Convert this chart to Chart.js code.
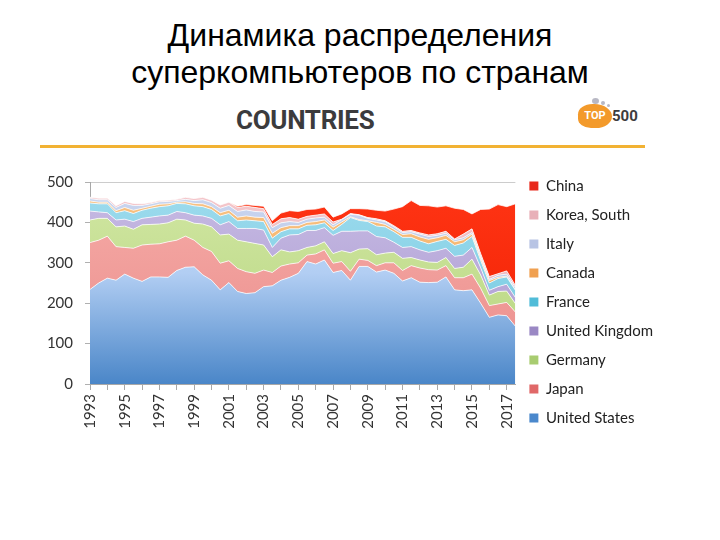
<!DOCTYPE html>
<html>
<head>
<meta charset="utf-8">
<script src="https://cdn.jsdelivr.net/npm/chart.js@4.4.1/dist/chart.umd.min.js"></script>
<style>
html, body { margin: 0; padding: 0; background: #fff; }
body { width: 720px; height: 540px; position: relative; overflow: hidden; font-family: "Liberation Sans", Arial, sans-serif; }
#title { position: absolute; left: 0; top: 17px; width: 720px; text-align: center; font-size: 32px; line-height: 37px; color: #000; }
#head { position: absolute; left: 236px; top: 105px; font-family: Roboto, sans-serif; font-weight: bold; font-size: 26px; color: #3b3b3d; letter-spacing: -0.3px; }
#rule { position: absolute; left: 40px; top: 145px; width: 605px; height: 3px; background: #f2b233; }
#logoBlob { position: absolute; left: 578px; top: 104px; width: 34px; height: 24px; background: #f39a2b; border-radius: 45% 55% 50% 40%; color: #fff; font: bold 11px Roboto, sans-serif; text-align: center; line-height: 24px; }
#logo500 { position: absolute; left: 612px; top: 104px; font: bold 15px Roboto, sans-serif; color: #3d3d3d; line-height: 24px; }
.dot { position: absolute; border-radius: 50%; background: #b8b8c4; }
#wrap { position: absolute; left: 0; top: 158px; width: 720px; height: 288px; }
</style>
</head>
<body>
<div id="title">Динамика распределения<br>суперкомпьютеров по странам</div>
<div id="head">COUNTRIES</div>
<div id="logoBlob">TOP</div>
<div id="logo500">500</div>
<div class="dot" style="left:592px;top:98px;width:7px;height:6px;"></div>
<div class="dot" style="left:601px;top:101px;width:4px;height:4px;"></div>
<div class="dot" style="left:607px;top:104px;width:3px;height:3px;"></div>
<div id="rule"></div>
<div id="wrap"><canvas id="chart"></canvas></div>
<script>
// TOP500 lists, June (.0) and November (.5)
const periods = [1993, 1993.5, 1994, 1994.5, 1995, 1995.5, 1996, 1996.5, 1997, 1997.5,
    1998, 1998.5, 1999, 1999.5, 2000, 2000.5, 2001, 2001.5, 2002, 2002.5,
    2003, 2003.5, 2004, 2004.5, 2005, 2005.5, 2006, 2006.5, 2007, 2007.5,
    2008, 2008.5, 2009, 2009.5, 2010, 2010.5, 2011, 2011.5, 2012, 2012.5,
    2013, 2013.5, 2014, 2014.5, 2015, 2015.5, 2016, 2016.5, 2017, 2017.5];
const xLabels = [1993, 1995, 1997, 1999, 2001, 2003, 2005, 2007, 2009, 2011, 2013, 2015, 2017];

const unitedStates = [234, 250, 262, 257, 272, 262, 254, 265, 265, 264,
    281, 289, 290, 270, 257, 233, 251, 229, 224, 226,
    241, 243, 257, 264, 274, 303, 297, 307, 276, 281,
    257, 291, 291, 277, 282, 274, 255, 263, 252, 251,
    252, 265, 233, 231, 233, 200, 165, 171, 169, 143];
const japan = [116, 106, 104, 83, 66, 74, 90, 81, 82, 88,
    75, 77, 66, 68, 71, 66, 54, 57, 54, 48,
    41, 33, 35, 33, 26, 16, 25, 25, 23, 22,
    22, 18, 15, 16, 18, 26, 26, 30, 35, 32,
    30, 28, 30, 32, 39, 37, 29, 27, 33, 35];
const germany = [56, 54, 44, 49, 53, 47, 50, 49, 49, 47,
    52, 40, 42, 58, 61, 70, 66, 70, 74, 74,
    62, 39, 40, 30, 30, 19, 20, 20, 24, 27,
    46, 25, 29, 27, 24, 26, 30, 20, 20, 19,
    19, 20, 23, 26, 37, 33, 26, 31, 28, 21];
const unitedKingdom = [22, 16, 14, 17, 17, 19, 16, 18, 20, 19,
    19, 18, 20, 20, 21, 25, 31, 29, 33, 37,
    37, 23, 29, 42, 40, 42, 38, 35, 45, 48,
    53, 45, 44, 45, 38, 25, 27, 27, 25, 24,
    29, 23, 30, 30, 29, 18, 12, 12, 17, 15];
const france = [20, 20, 22, 18, 21, 20, 20, 22, 23, 23,
    20, 22, 23, 23, 22, 22, 20, 19, 21, 19,
    21, 23, 16, 15, 14, 13, 14, 12, 12, 17,
    34, 26, 23, 26, 27, 26, 25, 23, 22, 21,
    23, 22, 27, 30, 27, 18, 18, 20, 18, 18];
const canada = [5, 4, 4, 5, 8, 8, 5, 5, 6, 5,
    3, 5, 6, 7, 7, 8, 8, 9, 10, 9,
    10, 12, 10, 8, 8, 7, 8, 7, 8, 6,
    2, 2, 2, 9, 6, 6, 7, 9, 10, 11,
    9, 10, 9, 8, 6, 6, 6, 3, 2, 1];
const italy = [6, 6, 6, 8, 10, 12, 7, 6, 6, 6,
    4, 6, 7, 10, 10, 11, 12, 14, 15, 14,
    14, 14, 12, 10, 8, 8, 9, 7, 6, 6,
    6, 11, 6, 6, 7, 6, 5, 5, 7, 7,
    6, 5, 5, 5, 4, 4, 3, 5, 5, 6];
const koreaSouth = [3, 4, 4, 4, 5, 5, 4, 3, 3, 3,
    3, 5, 5, 6, 6, 8, 8, 10, 9, 10,
    8, 8, 10, 10, 8, 7, 7, 8, 7, 1,
    2, 1, 2, 3, 2, 3, 3, 3, 3, 4,
    4, 5, 2, 9, 9, 7, 7, 4, 8, 5];
const china = [0, 0, 0, 0, 0, 0, 0, 0, 0, 0,
    0, 0, 0, 0, 0, 0, 0, 3, 4, 5,
    6, 9, 14, 17, 19, 17, 15, 17, 12, 13,
    12, 15, 21, 21, 24, 41, 61, 74, 68, 72,
    66, 63, 76, 61, 37, 109, 167, 171, 159, 202];

const seriesNames = ['United States', 'Japan', 'Germany', 'United Kingdom', 'France',
    'Canada', 'Italy', 'Korea, South', 'China'];
const seriesValues = [unitedStates, japan, germany, unitedKingdom, france,
    canada, italy, koreaSouth, china];

// colours, bottom series first
const lightColours = ['#b2cef3', '#f6aca8', '#d2e7a4', '#c8bce4', '#a0dcee', '#f8c488', '#cbd6ef', '#f5c8cc', '#ff3515'];
const darkColours = ['#4a86c8', '#ea8c8a', '#b4d47c', '#a796cf', '#6cc6de', '#f2a048', '#aebfe4', '#eaa8b0', '#f01e00'];
const legendColours = ['#4a88cc', '#e06868', '#a8cc70', '#9a88c4', '#50bcd8', '#f0a050', '#b8c4e4', '#e8b0b8', '#e8281a'];

function areaFill(index) {
    return (context) => {
        const area = context.chart.chartArea;
        if (!area) return lightColours[index];
        const g = context.chart.ctx.createLinearGradient(0, area.top, 0, area.bottom);
        if (index === 0) {
            g.addColorStop(0, '#c8ddf8');
            g.addColorStop(0.45, lightColours[0]);
        } else {
            g.addColorStop(0, lightColours[index]);
        }
        g.addColorStop(1, darkColours[index]);
        return g;
    };
}

const datasets = seriesNames.map((name, i) => ({
    label: name,
    data: periods.map((p, j) => ({x: p, y: seriesValues[i][j]})),
    fill: i === 0 ? 'origin' : '-1',
    backgroundColor: areaFill(i),
    borderColor: 'rgba(255,255,255,0.75)',
    borderWidth: 1,
    pointRadius: 0,
    tension: 0
}));

const tickFont = {family: 'Lato', size: 15};

new Chart(document.getElementById('chart'), {
    type: 'line',
    data: {datasets: datasets},
    options: {
        responsive: true,
        maintainAspectRatio: false,
        animation: false,
        layout: {padding: {top: 0, right: 57, left: 0, bottom: 0}},
        plugins: {
            tooltip: {enabled: false},
            // empty title only reserves the space above the plot
            title: {display: true, text: ' ', font: {size: 10, lineHeight: 1}, padding: {top: 7, bottom: 7}},
            legend: {
                position: 'right',
                reverse: true,
                labels: {
                    boxWidth: 9,
                    boxHeight: 9,
                    padding: 14,
                    color: '#222',
                    font: tickFont,
                    generateLabels: (chart) => {
                        const items = Chart.defaults.plugins.legend.labels.generateLabels(chart);
                        items.forEach((item) => {
                            item.fillStyle = legendColours[item.datasetIndex];
                            item.strokeStyle = legendColours[item.datasetIndex];
                            item.lineWidth = 0;
                        });
                        return items;
                    }
                }
            }
        },
        scales: {
            x: {
                type: 'linear',
                min: periods[0],
                max: periods[periods.length - 1],
                afterFit: (scale) => { scale.height = 62; },
                ticks: {
                    stepSize: 1,
                    autoSkip: false,
                    includeBounds: false,
                    maxRotation: 90,
                    minRotation: 90,
                    padding: 4,
                    color: '#333',
                    font: tickFont,
                    callback: (v) => xLabels.includes(v) ? String(v) : ''
                },
                grid: {drawOnChartArea: false, tickLength: 6, tickColor: '#a8a8a8'},
                border: {color: '#a8a8a8'}
            },
            y: {
                stacked: true,
                min: 0,
                max: 500,
                afterFit: (scale) => { scale.width = 90; },
                ticks: {stepSize: 100, padding: 12, color: '#333', font: tickFont},
                grid: {
                    color: (ctx) => ctx.tick && ctx.tick.value === 500 ? '#cccccc' : 'rgba(0,0,0,0)',
                    tickLength: 5,
                    tickColor: '#b0b0b0'
                },
                border: {color: '#a8a8a8'}
            }
        }
    }
});
</script>
</body>
</html>
